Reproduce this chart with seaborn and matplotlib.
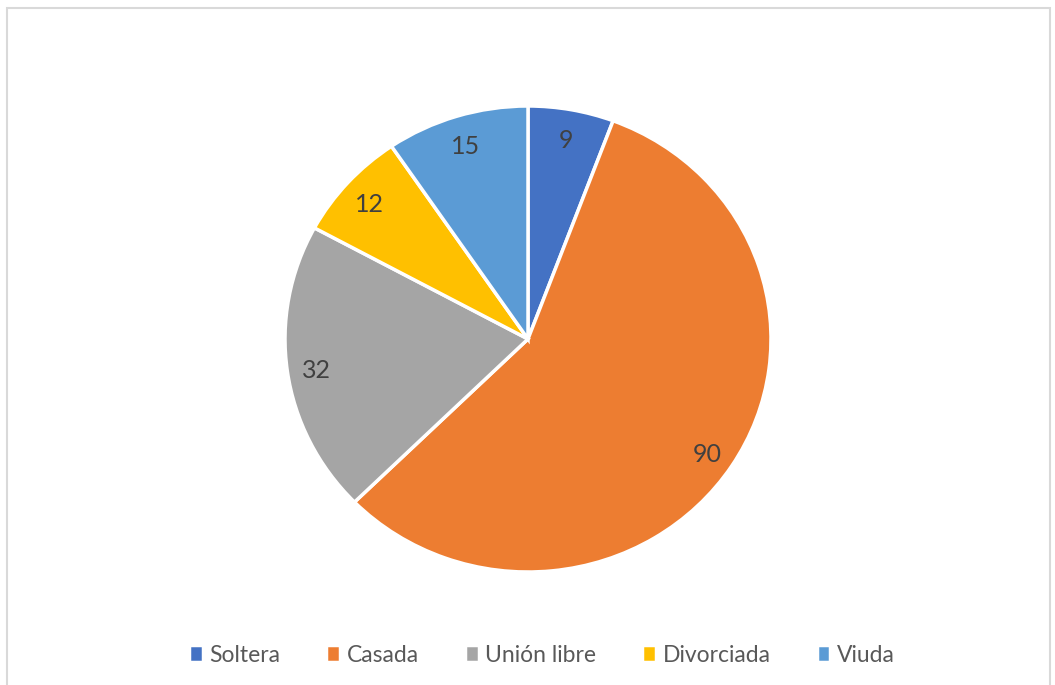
import matplotlib
matplotlib.use("Agg")
import matplotlib.pyplot as plt
import seaborn as sns
from matplotlib.patches import Rectangle

# datos del grafico
categorias = ['Soltera', 'Casada', 'Unión libre', 'Divorciada', 'Viuda']
valores = [9, 90, 32, 12, 15]
colores = ['#4472C4', '#ED7D31', '#A5A5A5', '#FFC000', '#5B9BD5']

sns.set_theme(style='white')
plt.rcParams['font.family'] = ['Lato', 'DejaVu Sans']

fig = plt.figure(figsize=(10.55, 6.85), dpi=100)

# marco gris alrededor
fig.patches.append(Rectangle((7 / 1055, -0.01), 1043 / 1055, 1 - 8 / 685 + 0.01,
                             transform=fig.transFigure, fill=False,
                             edgecolor='#D9D9D9', linewidth=1.5))

# eje del pastel (centro ~ (528, 339) px, radios ~ 243 x 233 px)
rx, ry = 243, 233
cx, cy = 528, 339
ax = fig.add_axes([(cx - rx) / 1055, (685 - cy - ry) / 685, 2 * rx / 1055, 2 * ry / 685])

wedges, textos = ax.pie(valores, colors=colores, startangle=90, counterclock=False,
                        labels=[str(v) for v in valores], labeldistance=0.88,
                        wedgeprops={'edgecolor': 'white', 'linewidth': 2.5},
                        textprops={'fontsize': 18, 'color': '#404040'})
for t in textos:
    t.set_horizontalalignment('center')
    t.set_verticalalignment('center')
    x, y = t.get_position()
    t.set_position((x, y - 0.015))
for w in wedges:
    w.set_clip_on(False)
ax.set_xlim(-1, 1)
ax.set_ylim(-1, 1)
ax.set_aspect('auto')
ax.axis('off')

fig.legend(wedges, categorias, loc='center', bbox_to_anchor=(542 / 1055, 30 / 685), ncol=5,
           frameon=False, fontsize=16.5, handlelength=0.6, handleheight=0.75,
           handletextpad=0.3, columnspacing=2.0, labelcolor='#595959')

fig.savefig('out.png', dpi=100)
